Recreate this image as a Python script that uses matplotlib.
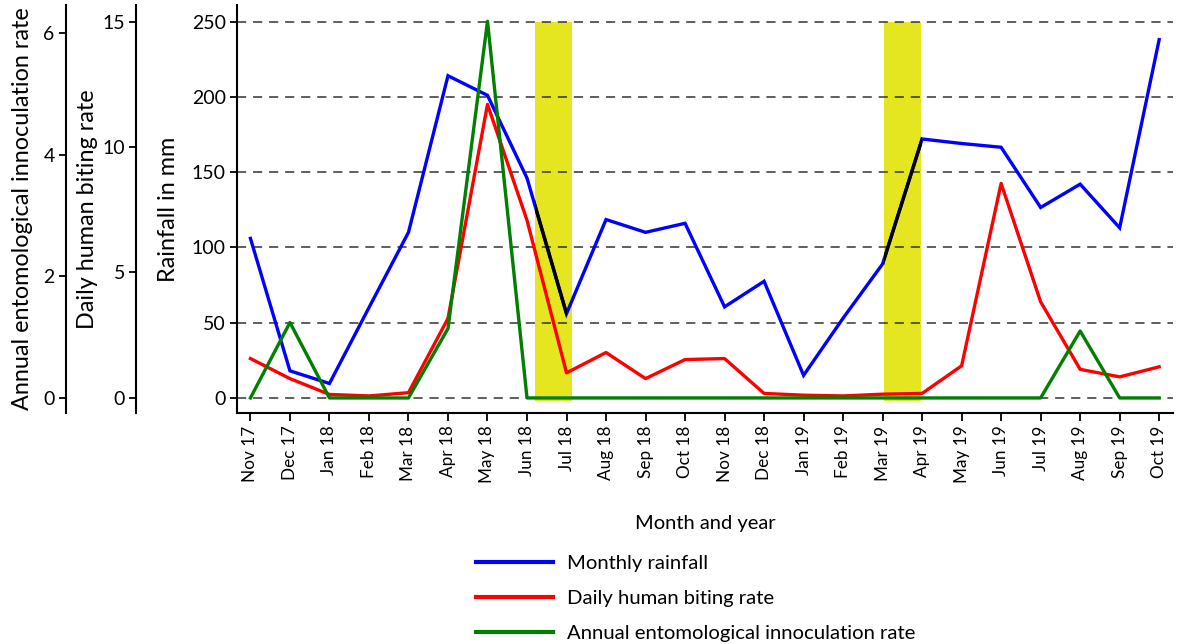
import matplotlib
matplotlib.use("Agg")
import matplotlib.pyplot as plt
from matplotlib.patches import Rectangle
from matplotlib.lines import Line2D
import numpy as np

plt.rcParams['font.family'] = ['Lato', 'DejaVu Sans']

months = ["Nov 17", "Dec 17", "Jan 18", "Feb 18", "Mar 18", "Apr 18", "May 18", "Jun 18",
          "Jul 18", "Aug 18", "Sep 18", "Oct 18", "Nov 18", "Dec 18", "Jan 19", "Feb 19",
          "Mar 19", "Apr 19", "May 19", "Jun 19", "Jul 19", "Aug 19", "Sep 19", "Oct 19"]
rainfall = [106, 18, 9.6, 60, 110, 214, 201, 146, 56, 118.5, 110, 116, 60.5, 77.5, 15,
            53, 89, 172, 169, 166.5, 126.5, 142, 113, 238]
biting = [1.57, 0.77, 0.14, 0.08, 0.21, 3.17, 11.7, 7.08, 1.0, 1.81, 0.77, 1.53, 1.57, 0.18,
          0.11, 0.08, 0.15, 0.18, 1.28, 8.55, 3.83, 1.14, 0.84, 1.24]
eir = [0, 1.24, 0, 0, 0, 1.14, 6.19, 0, 0, 0, 0, 0, 0, 0, 0, 0, 0, 0, 0, 0, 0, 1.10, 0, 0]
# highlighted periods (start, end) in month-index units
highlight_periods = [(7.2, 8.13), (16.03, 16.96)]
black_segments = [(7, 8), (16, 17)]

W, H = 1178, 644
fig = plt.figure(figsize=(W / 100, H / 100), dpi=100)
left, right, bottom, top = 237 / W, 1173 / W, 1 - 413 / H, 1 - 5 / H
pos = [left, bottom, right - left, top - bottom]
axw = (right - left) * W
axh = (top - bottom) * H

ax = fig.add_axes(pos)
x = np.arange(len(months))
ylo, yhi = -10, 261
ax.set_ylim(ylo, yhi)
ax.set_xlim(-0.34, 23.35)

# yellow highlight bars
for (a, b) in highlight_periods:
    ax.bar((a + b) / 2, 252, bottom=-2.2, width=b - a, color="#E6E620", zorder=0.5)

ax.set_axisbelow('line')
ax.yaxis.grid(True, color="#333333", linestyle=(0, (6, 4.5)), linewidth=1.1)
ax.set_yticks([0, 50, 100, 150, 200, 250])

ax.plot(x, rainfall, color="#0000FF", lw=2.4, zorder=3, solid_joinstyle='miter')
for (i0, i1), (a, b) in zip(black_segments, highlight_periods):
    ln, = ax.plot(x[i0:i1 + 1], rainfall[i0:i1 + 1], color="black", lw=2.4, zorder=3.5)
    clip = Rectangle((max(a, i0), ylo - 5), i1 - max(a, i0), yhi - ylo + 10,
                     transform=ax.transData)
    ln.set_clip_path(clip)

ax.set_xticks(x)
ax.set_xticklabels(months, rotation=90, fontsize=12.3)
ax.tick_params(axis='x', length=6, width=1.3, pad=3)
ax.tick_params(axis='y', length=5, width=1.3, labelsize=14, pad=3)
for s in ['top', 'right']:
    ax.spines[s].set_visible(False)
for s in ['left', 'bottom']:
    ax.spines[s].set_linewidth(1.5)
ax.set_ylabel("Rainfall in mm", fontsize=16.8)
ax.yaxis.set_label_coords((179 - 237) / axw, 0.5)
ax.set_xlabel("Month and year", fontsize=14.5, va='top')
ax.xaxis.set_label_coords(0.5, (413 - 515) / axh)

# daily human biting rate axis
ax2 = fig.add_axes(pos, sharex=ax)
ax2.patch.set_visible(False)
ax2.set_ylim(ylo * 15 / 250, yhi * 15 / 250)
ax2.plot(x, biting, color="#FF0000", lw=2.4, zorder=3)
for s in ['top', 'right', 'bottom']:
    ax2.spines[s].set_visible(False)
ax2.spines['left'].set_position(('outward', 101 * 72 / 100))
ax2.spines['left'].set_linewidth(1.5)
ax2.set_yticks([0, 5, 10, 15])
ax2.tick_params(axis='y', length=5, width=1.3, labelsize=14, pad=3)
ax2.tick_params(axis='x', bottom=False, labelbottom=False)
ax2.set_ylabel("Daily human biting rate", fontsize=16.8)
ax2.yaxis.set_label_coords((98 - 237) / axw, 0.5)

# EIR axis
eir_scale = 40.42
ax3 = fig.add_axes(pos, sharex=ax)
ax3.patch.set_visible(False)
ax3.set_ylim(ylo / eir_scale, yhi / eir_scale)
ax3.plot(x, eir, color="#007F00", lw=2.4, zorder=3)
for s in ['top', 'right', 'bottom']:
    ax3.spines[s].set_visible(False)
ax3.spines['left'].set_position(('outward', 171.3 * 72 / 100))
ax3.spines['left'].set_linewidth(1.5)
ax3.set_yticks([0, 2, 4, 6])
ax3.tick_params(axis='y', length=5, width=1.3, labelsize=14, pad=3)
ax3.tick_params(axis='x', bottom=False, labelbottom=False)
ax3.set_ylabel("Annual entomological innoculation rate", fontsize=16.8)
ax3.yaxis.set_label_coords((33 - 237) / axw, 0.5)

handles = [Line2D([], [], color="#0000FF", lw=3),
           Line2D([], [], color="#FF0000", lw=3),
           Line2D([], [], color="#007F00", lw=3)]
labels = ["Monthly rainfall", "Daily human biting rate", "Annual entomological innoculation rate"]
fig.legend(handles, labels, loc='upper left', bbox_to_anchor=(468 / W, 1 - 547 / H),
           frameon=False, fontsize=14.6, handlelength=3.8, handletextpad=0.7,
           labelspacing=0.88, borderaxespad=0)

fig.savefig("out.png", dpi=100)
